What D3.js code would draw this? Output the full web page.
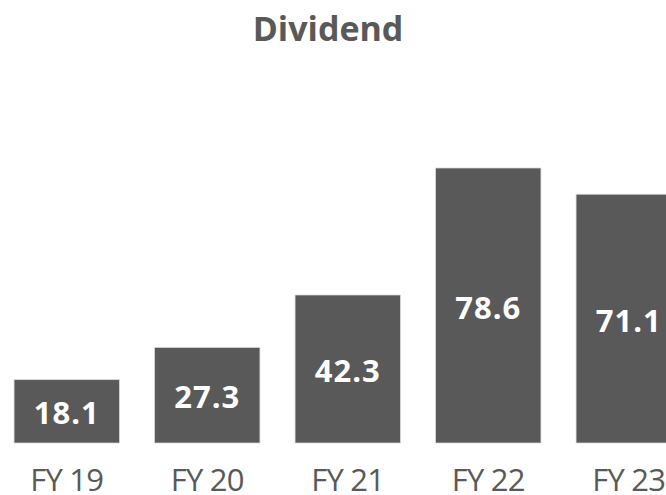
<!DOCTYPE html>
<html>
<head>
<meta charset="utf-8">
<script src="https://cdn.jsdelivr.net/npm/d3@7"></script>
<style>
  body { margin: 0; background: #fff; overflow: hidden; }
  svg { display: block; }
</style>
</head>
<body>
<svg id="chart" width="666" height="495"></svg>
<script>
// values
var years  = ["FY 19", "FY 20", "FY 21", "FY 22", "FY 23"];
var values = [18.1, 27.3, 42.3, 78.6, 71.1];
var title  = "Dividend";

var barColor = "#595959";
var svg = d3.select("#chart");

// chart runs past the right edge, the last bar is clipped like in the original
var x = d3.scaleBand()
    .domain(years)
    .range([-3.5, 699])
    .paddingInner(0.25)
    .paddingOuter(0.125);

var y = d3.scaleLinear()
    .domain([0, 78.6])
    .range([443, 168]);

svg.append("text")
  .attr("x", 328)
  .attr("y", 41)
  .attr("text-anchor", "middle")
  .attr("font-family", "'Open Sans', sans-serif")
  .attr("font-weight", "bold")
  .attr("font-size", 34)
  .attr("fill", barColor)
  .text(title);

var bars = svg.append("g").selectAll("g")
  .data(years)
  .join("g");

bars.append("rect")
  .attr("x", d => x(d))
  .attr("width", x.bandwidth())
  .attr("y", (d, i) => y(values[i]))
  .attr("height", (d, i) => y(0) - y(values[i]))
  .attr("fill", barColor)
  .attr("stroke", "#d9d9d9")
  .attr("stroke-width", 0.75);

bars.append("text")
  .attr("x", d => x(d) + x.bandwidth() / 2)
  .attr("y", (d, i) => (y(values[i]) + y(0)) / 2 + 13)
  .attr("text-anchor", "middle")
  .attr("font-family", "'Open Sans', sans-serif")
  .attr("font-weight", "bold")
  .attr("font-size", 31)
  .attr("letter-spacing", 1)
  .attr("fill", "#fff")
  .text((d, i) => values[i].toFixed(1));

// category labels sit right at the bottom edge, as in the original
svg.append("g").selectAll("text")
  .data(years)
  .join("text")
  .attr("x", d => x(d) + x.bandwidth() / 2)
  .attr("y", 491)
  .attr("text-anchor", "middle")
  .attr("font-family", "'Open Sans', sans-serif")
  .attr("font-size", 31)
  .attr("letter-spacing", -0.8)
  .attr("fill", barColor)
  .text(d => d);
</script>
</body>
</html>
